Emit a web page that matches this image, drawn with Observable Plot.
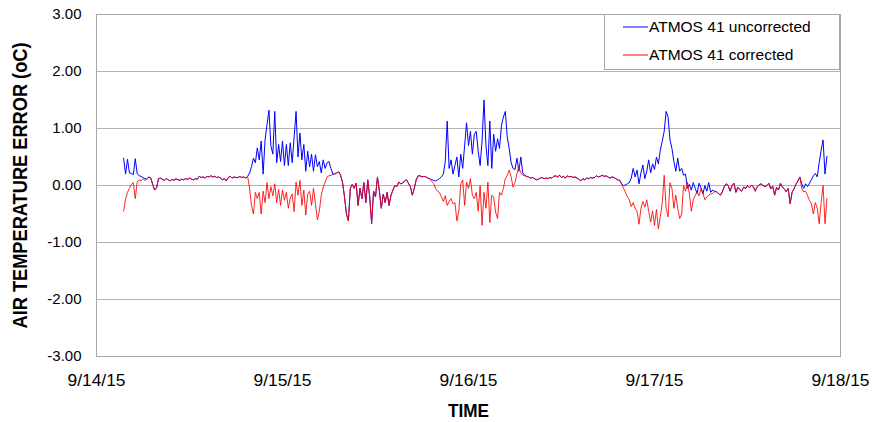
<!DOCTYPE html>
<html>
<head>
<meta charset="utf-8">
<script src="https://cdn.jsdelivr.net/npm/d3@7"></script>
<script src="https://cdn.jsdelivr.net/npm/@observablehq/plot@0.6"></script>
<style>
  html, body { margin: 0; padding: 0; background: #fff; }
  #wrap { position: relative; width: 874px; height: 422px; font-family: "Liberation Sans", Arial, sans-serif; }
  #legend { position: absolute; left: 604px; top: 14px; width: 236px; height: 56px; box-sizing: border-box;
            border: 1px solid #a6a6a6; background: #fff; font-size: 15.5px; color: #000; }
  .row { position: absolute; left: 0; display: flex; align-items: center; }
  .row svg { margin-left: 18px; margin-right: 1px; }
</style>
</head>
<body>
<div id="wrap"><div id="legend"></div></div>
<script>
// ---- data (15-minute samples starting 9/14/15 03:30) ----
const startTime = "2015-09-14T03:30:00Z";
const stepMinutes = 15;
const seriesNames = ["ATMOS 41 uncorrected", "ATMOS 41 corrected"];
const seriesColors = ["#0000ff", "#ff0000"];
const xTickDates = ["2015-09-14", "2015-09-15", "2015-09-16", "2015-09-17", "2015-09-18"];
const xTickLabels = ["9/14/15", "9/15/15", "9/16/15", "9/17/15", "9/18/15"];
const yTicks = [-3, -2, -1, 0, 1, 2, 3];
const yLabel = "AIR TEMPERATURE ERROR (oC)";
const xLabel = "TIME";

const uncorrected = [
  // 9/14
  0.48, 0.20, 0.46, 0.22, 0.21, 0.19, 0.47, 0.21, 0.17, 0.16,
  0.14, 0.12, 0.11, 0.15, 0.13, 0.02, -0.08, -0.04, 0.12, 0.13,
  0.11, 0.09, 0.12, 0.10, 0.08, 0.11, 0.09, 0.12, 0.10, 0.09,
  0.11, 0.10, 0.12, 0.11, 0.13, 0.11, 0.10, 0.12, 0.11, 0.16,
  0.14, 0.15, 0.13, 0.16, 0.15, 0.17, 0.15, 0.16, 0.14, 0.15,
  0.13, 0.10, 0.12, 0.08, 0.14, 0.16, 0.13, 0.15,
  // 9/15 day
  0.14, 0.14, 0.16, 0.14, 0.15, 0.13, 0.16, 0.22, 0.33, 0.48,
  0.40, 0.66, 0.45, 0.78, 0.20, 0.80, 1.07, 1.32, 0.70, 0.55,
  1.30, 0.40, 0.72, 0.42, 0.78, 0.35, 0.72, 0.35, 0.75, 0.40,
  0.85, 1.30, 0.50, 0.92, 0.45, 0.72, 0.25, 0.60, 0.33, 0.55,
  0.25, 0.54, 0.33, 0.42, 0.22, 0.45, 0.30, 0.40, 0.42, 0.30,
  0.20, 0.20, 0.22, 0.24, 0.18, 0.05, -0.20, -0.50, -0.62, -0.05,
  0.02, -0.05,
  // 9/15 night - 9/16 morning
  0.04, -0.35, -0.05, -0.23, 0.05, -0.30, 0.10, -0.20, -0.67, -0.10,
  -0.20, 0.15, -0.10, -0.40, -0.15, -0.30, -0.12, -0.35, -0.17, -0.08,
  0.00, -0.02, 0.06, 0.03, 0.04, 0.08, 0.10, 0.04, -0.02, -0.17,
  -0.05, 0.10, 0.17, 0.17, 0.15, 0.16, 0.15, 0.13,
  0.12, 0.10, 0.09, 0.08, 0.10, 0.12, 0.15, 0.20, 0.42, 1.13,
  0.30, 0.45, 0.20, 0.35, 0.50, 0.15, 0.55, 0.30, 0.70, 1.10,
  0.70, 0.95, 0.55, 0.90,
  // 9/16 midday - night
  0.95, 0.60, 0.35, 0.78, 1.50, 0.70, 0.35, 1.13, 0.30, 0.90,
  0.60, 0.82, 0.65, 1.05, 1.20, 1.30, 0.85, 0.65, 0.40, 0.30,
  0.28, 0.48, 0.25, 0.50, 0.22, 0.18, 0.16,
  0.15, 0.13, 0.14, 0.12, 0.10, 0.11, 0.13, 0.14, 0.12, 0.13,
  0.12, 0.14, 0.13, 0.16, 0.17, 0.15, 0.18, 0.14, 0.16, 0.13,
  0.17, 0.15, 0.16, 0.14, 0.15, 0.13, 0.11, 0.08, 0.12, 0.10,
  0.13, 0.12, 0.14, 0.13, 0.14,
  // 9/17
  0.17, 0.15, 0.16, 0.18, 0.16, 0.17, 0.15, 0.13, 0.15, 0.14,
  0.12, 0.10, 0.09, 0.03,
  0.00, 0.01, 0.03, 0.05, 0.13, 0.30, 0.15, 0.27, 0.03, 0.22,
  0.36, 0.12, 0.25, 0.45, 0.22, 0.38, 0.28, 0.50, 0.38, 0.62,
  0.78, 0.95, 1.30, 1.20, 0.80, 0.65, 0.42, 0.25, 0.48, 0.25,
  0.30, 0.18, 0.20, -0.05, 0.02, -0.08, 0.05, -0.05, -0.14, 0.04,
  -0.04, -0.15, 0.00, -0.10, 0.05, -0.12, -0.08, -0.10,
  // 9/17 night - 9/18 morning
  -0.11, -0.14, -0.17, -0.11, -0.02, 0.03, 0.00, -0.10, 0.00, 0.04,
  -0.12, -0.03, -0.07, -0.10, -0.03, -0.05, 0.00, -0.04, 0.00, -0.02,
  -0.10, -0.02, 0.01, 0.03, 0.00, -0.02, 0.00, 0.04, -0.06, -0.01,
  -0.17, -0.03, -0.08, 0.04, -0.03, -0.06, -0.11, -0.05, -0.32, -0.12,
  -0.06, 0.02, 0.08, 0.15,
  0.03, -0.05, 0.03, -0.02, 0.04, 0.10, 0.17, 0.21, 0.15, 0.40,
  0.62, 0.80, 0.20, 0.51
];

const corrected = [
  // 9/14
  -0.45, -0.24, -0.12, -0.05, 0.02, 0.05, -0.23, 0.06, 0.10, 0.08,
  0.12, 0.09, 0.11, 0.15, 0.13, 0.02, -0.08, -0.04, 0.12, 0.13,
  0.11, 0.09, 0.12, 0.10, 0.08, 0.11, 0.09, 0.12, 0.10, 0.09,
  0.11, 0.10, 0.12, 0.11, 0.13, 0.11, 0.10, 0.12, 0.11, 0.16,
  0.14, 0.15, 0.13, 0.16, 0.15, 0.17, 0.15, 0.16, 0.14, 0.15,
  0.13, 0.10, 0.12, 0.08, 0.14, 0.16, 0.13, 0.15,
  // 9/15 day
  0.14, 0.14, 0.16, 0.14, 0.15, 0.13, 0.16, -0.05, -0.35, -0.50,
  -0.12, -0.23, -0.12, -0.50, -0.10, -0.30, 0.05, -0.23, -0.02, -0.18,
  0.03, -0.30, -0.07, -0.35, -0.08, -0.26, -0.12, -0.40, -0.22, -0.15,
  -0.46, 0.06, -0.17, 0.09, -0.35, -0.08, -0.52, -0.15, -0.10, -0.35,
  -0.05, -0.32, -0.60, -0.45, -0.17, -0.03, 0.06, 0.15, 0.17, 0.18,
  0.19, 0.21, 0.22, 0.24, 0.18, 0.05, -0.20, -0.50, -0.62, -0.05,
  0.02, -0.05,
  // 9/15 night - 9/16 morning
  0.04, -0.35, -0.05, -0.23, 0.05, -0.30, 0.10, -0.20, -0.67, -0.10,
  -0.20, 0.15, -0.10, -0.40, -0.15, -0.30, -0.12, -0.35, -0.17, -0.08,
  0.00, -0.02, 0.06, 0.03, 0.04, 0.08, 0.10, 0.04, -0.02, -0.17,
  -0.05, 0.10, 0.17, 0.17, 0.15, 0.16, 0.15, 0.13,
  0.12, 0.07, 0.04, -0.05, -0.10, -0.12, -0.20, -0.28, -0.18, -0.35,
  -0.28, -0.23, -0.32, -0.30, -0.62, -0.45, 0.03, 0.10, -0.35, 0.06,
  -0.05, 0.12, -0.17, -0.23,
  // 9/16 midday - night
  -0.12, -0.45, 0.00, -0.70, -0.12, -0.40, 0.06, -0.65, -0.17, -0.20,
  -0.47, -0.58, -0.12, -0.17, -0.05, 0.12, 0.18, 0.27, 0.15, -0.03,
  0.05, 0.21, 0.33, 0.22, 0.18, 0.17, 0.16,
  0.15, 0.13, 0.14, 0.12, 0.10, 0.11, 0.13, 0.14, 0.12, 0.13,
  0.12, 0.14, 0.13, 0.16, 0.17, 0.15, 0.18, 0.14, 0.16, 0.13,
  0.17, 0.15, 0.16, 0.14, 0.15, 0.13, 0.11, 0.08, 0.12, 0.10,
  0.13, 0.12, 0.14, 0.13, 0.14,
  // 9/17
  0.17, 0.15, 0.16, 0.18, 0.16, 0.17, 0.15, 0.13, 0.15, 0.14,
  0.12, 0.10, 0.09, 0.03,
  -0.05, -0.12, -0.20, -0.25, -0.37, -0.30, -0.40, -0.45, -0.68, -0.40,
  -0.28, -0.38, -0.25, -0.45, -0.64, -0.45, -0.70, -0.42, -0.76, -0.55,
  -0.30, 0.18, -0.40, -0.55, 0.05, -0.05, -0.40, -0.17, -0.40, -0.58,
  -0.50, 0.00, -0.10, 0.06, -0.15, -0.45, -0.25, -0.17, -0.12, -0.18,
  -0.05, -0.14, -0.25, -0.20, -0.17, -0.15, -0.14, -0.11,
  // 9/17 night - 9/18 morning
  -0.11, -0.14, -0.17, -0.11, -0.02, 0.03, 0.00, -0.10, 0.00, 0.04,
  -0.12, -0.03, -0.07, -0.10, -0.03, -0.05, 0.00, -0.04, 0.00, -0.02,
  -0.10, -0.02, 0.01, 0.03, 0.00, -0.02, 0.00, 0.04, -0.06, -0.01,
  -0.17, -0.03, -0.08, 0.04, -0.03, -0.06, -0.11, -0.05, -0.32, -0.12,
  -0.06, 0.02, 0.08, 0.15,
  -0.05, -0.11, -0.10, -0.18, -0.26, -0.32, -0.50, -0.30, -0.40, -0.67,
  -0.30, 0.00, -0.67, -0.23
];

// ---- build table ----
const t0 = new Date(startTime).getTime();
const timeAt = i => new Date(t0 + i * stepMinutes * 60000);
const rows = [];
[uncorrected, corrected].forEach((arr, s) => {
  arr.forEach((v, i) => rows.push({series: seriesNames[s], time: timeAt(i), value: v}));
});
const tickDates = xTickDates.map(d => new Date(d + "T00:00:00Z"));
const tickLabelOf = new Map(tickDates.map((d, i) => [+d, xTickLabels[i]]));

const chart = Plot.plot({
  width: 874,
  height: 422,
  marginTop: 14,
  marginBottom: 66,
  marginLeft: 96,
  marginRight: 34,
  style: {fontFamily: '"Liberation Sans", Arial, sans-serif', background: "#fff", overflow: "visible"},
  x: {type: "utc", domain: [tickDates[0], tickDates[tickDates.length - 1]]},
  y: {domain: [-3, 3]},
  color: {domain: seriesNames, range: seriesColors},
  marks: [
    Plot.gridY(yTicks, {stroke: "#b3b3b3", strokeOpacity: 1}),
    Plot.frame({stroke: "#a6a6a6"}),
    Plot.axisY(yTicks, {tickSize: 0, tickPadding: 15, tickFormat: d => d.toFixed(2), fontSize: 15, label: null}),
    Plot.axisX(tickDates, {tickSize: 0, tickPadding: 17, tickFormat: d => tickLabelOf.get(+d),
                           fontSize: 17, label: null}),
    Plot.line(rows.filter(d => d.series === seriesNames[0]), {x: "time", y: "value", stroke: "series", strokeWidth: 1}),
    Plot.line(rows.filter(d => d.series === seriesNames[1]), {x: "time", y: "value", stroke: "series", strokeWidth: 1, strokeOpacity: 0.85}),
    Plot.text([yLabel], {frameAnchor: "left", dx: -76, rotate: -90, text: d => d, textAnchor: "middle",
                         fontSize: 20, fontWeight: "bold"}),
    Plot.text([xLabel], {frameAnchor: "bottom", dy: 54, lineAnchor: "middle", text: d => d, textAnchor: "middle",
                         fontSize: 19, fontWeight: "bold"})
  ]
});
document.getElementById("wrap").prepend(chart);
chart.style.position = "absolute";
chart.style.left = "0";
chart.style.top = "0";

// condensed look (reference uses a narrow face): compress glyphs to the reference widths
const squeeze = (el, len) => { el.setAttribute("textLength", len); el.setAttribute("lengthAdjust", "spacingAndGlyphs"); };
chart.querySelectorAll('g[aria-label="x-axis tick label"] text').forEach(t => squeeze(t, 58));
chart.querySelectorAll('g[aria-label="text"] text').forEach(t => {
  if (t.textContent === yLabel) squeeze(t, 286);
  if (t.textContent === xLabel) squeeze(t, 41);
});

// legend (HTML, drawn from the series arrays)
const legend = document.getElementById("legend");
seriesNames.forEach((name, i) => {
  const row = document.createElement("div");
  row.className = "row";
  row.style.top = (i === 0 ? 3 : 31) + "px";
  row.innerHTML = `<svg width="25" height="18"><line x1="0" x2="25" y1="9" y2="9" stroke="${seriesColors[i]}" stroke-width="1"/></svg><span>${name}</span>`;
  legend.appendChild(row);
});
</script>
</body>
</html>
